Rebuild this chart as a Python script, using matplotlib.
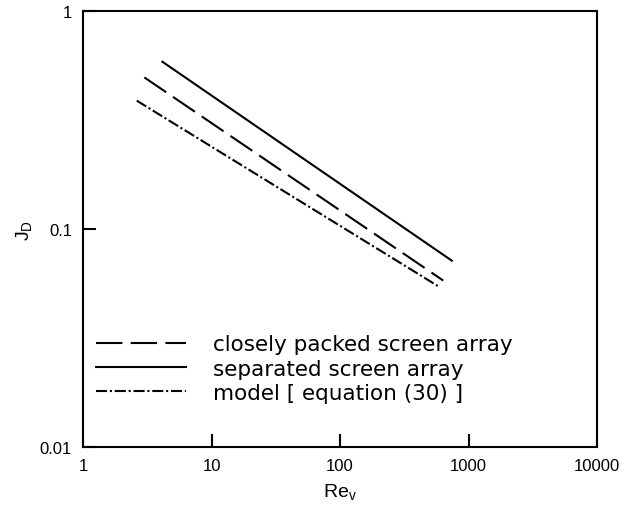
import matplotlib
matplotlib.use("Agg")
import matplotlib.pyplot as plt

plt.rcParams['font.family'] = ['Liberation Sans', 'DejaVu Sans']
plt.rcParams['lines.scale_dashes'] = False
plt.rcParams['mathtext.default'] = 'regular'

# Reynolds number (x) and J_D (y) end points for each straight line
re_packed = [3.0, 636]
jd_packed = [0.496, 0.058]

re_separated = [4.15, 741]
jd_separated = [0.585, 0.0716]

re_model = [2.62, 600]
jd_model = [0.388, 0.054]

labels = ["closely packed screen array", "separated screen array", "model [ equation (30) ]"]
x_ticks = [1, 10, 100, 1000, 10000]
x_tick_labels = ["1", "10", "100", "1000", "10000"]
y_ticks = [0.01, 0.1, 1]
y_tick_labels = ["0.01", "0.1", "1"]

fig = plt.figure(figsize=(6.23, 5.06), dpi=100)
ax = fig.add_axes([83 / 623, 58 / 506, 514 / 623, 436 / 506])

ax.plot(re_packed, jd_packed, color='black', lw=1.5, linestyle=(0, (19, 6)), label=labels[0])
ax.plot(re_separated, jd_separated, color='black', lw=1.5, linestyle='-', label=labels[1])
ax.plot(re_model, jd_model, color='black', lw=1.5, linestyle=(0, (8, 2, 1.5, 2)), label=labels[2])

ax.set_xscale('log')
ax.set_yscale('log')
ax.set_xlim(1, 10000)
ax.set_ylim(0.01, 1)

ax.set_xticks(x_ticks, x_tick_labels)
ax.set_yticks(y_ticks, y_tick_labels)
ax.minorticks_off()
ax.tick_params(direction='in', length=9.5, width=1.5, labelsize=12, pad=8)

for side in ax.spines:
    ax.spines[side].set_linewidth(1.5)

# keep the subscript inside the figure
ax.set_xlabel(r'Re$_v$', fontsize=14, labelpad=6)
ax.set_ylabel(r'J$_D$', fontsize=14, labelpad=4)

# legend sits inside the axes, bottom left, no frame
ax.legend(loc='lower left', bbox_to_anchor=(96 / 623, 102 / 506), bbox_transform=fig.transFigure,
          frameon=False, prop={'family': 'DejaVu Sans', 'size': 15.5}, handlelength=4.2,
          handletextpad=1.25, labelspacing=0.2, borderpad=0, borderaxespad=0)

fig.savefig('out.png', dpi=100)
